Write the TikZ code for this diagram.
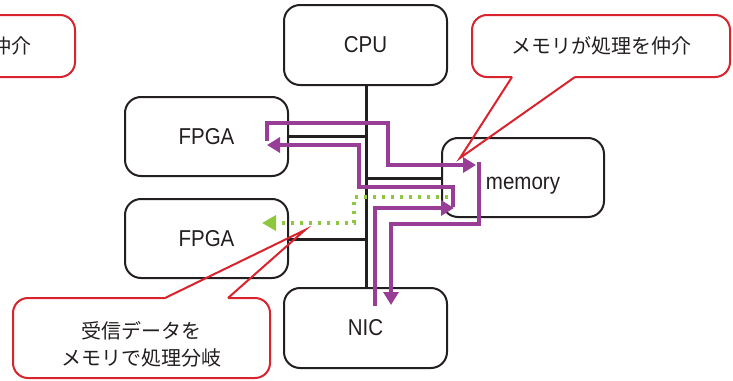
\documentclass[tikz,border=0pt]{standalone}
\usepackage{fontspec}
\setmainfont{Liberation Sans}
\newfontfamily\jpfont{Noto Sans CJK JP}
\usetikzlibrary{arrows.meta}
\definecolor{ink}{HTML}{231F20}
\definecolor{callred}{HTML}{D9232D}
\definecolor{flow}{HTML}{993E97}
\definecolor{dgreen}{HTML}{8DC63F}
\newcommand{\tallt}[1]{\scalebox{1}[1.12]{#1}}
\begin{document}
\begin{tikzpicture}[x=1pt,y=-1pt,
  unit/.style={draw=ink, line width=2pt, rounded corners=16pt, fill=white,
    minimum width=163pt, minimum height=80pt, inner sep=0pt,
    font=\fontsize{20.5}{24}\selectfont, text=ink},
  unitlabel/.style={font=\fontsize{20.5}{24}\selectfont, text=ink, inner sep=0pt},
  bus/.style={draw=ink, line width=3pt},
  flowtip/.style={draw=flow, line width=3.4pt, line join=miter,
    -{Triangle[length=13pt,width=15pt]}},
  dotline/.style={draw=dgreen, line width=3.4pt, dash pattern=on 3.4pt off 5.6pt,
    -{Triangle[length=14pt,width=15pt,fill=dgreen]}},
  callbox/.style={draw=callred, line width=2pt, rounded corners=15pt, fill=white},
  callptr/.style={draw=callred, line width=2pt, line join=miter},
  calltext/.style={font=\jpfont\fontsize{20}{27}\selectfont, text=ink, align=center, inner sep=0pt}
]
\useasboundingbox (0,0) rectangle (733,380);
\clip (0,0) rectangle (733,380);

% units
\node[unit] (cpu) at (365.5,45) {\tallt{CPU}};
\node[unit, minimum height=79pt] (fpga1) at (206.5,136.5) {\tallt{FPGA}};
\node[unit, minimum height=79pt] (fpga2) at (206.5,238.5) {\tallt{FPGA}};
\node[unit, minimum width=162pt, minimum height=79pt] (mem) at (523,177.5) {};
\node[unitlabel, anchor=base] (memlabel) at (523,189) {\tallt{memory}};
\node[unit] (nic) at (365.5,328) {\tallt{NIC}};

% bus
\coordinate (b1) at (366,136);
\coordinate (b2) at (366,178);
\coordinate (b3) at (366,239);
\draw[bus] (cpu.south -| b1) -- (nic.north -| b1);
\draw[bus] (fpga1.east |- b1) -- (b1);
\draw[bus] (b2) -- (mem.west |- b2);
\draw[bus] (fpga2.east |- b3) -- (b3);

% flows
\coordinate (a0) at (267,141);
\coordinate (a1) at (267,123);
\coordinate (a2) at (388,123);
\coordinate (a3) at (388,165);
\coordinate (a4) at (476,165);
\draw[flowtip] (a0) -- (a1) -- (a2) -- (a3) -- (a4);

\coordinate (d0) at (479,162);
\coordinate (d1) at (479,224);
\coordinate (d2) at (391,224);
\coordinate (d3) at (391,305);
\draw[flowtip] (d0) -- (d1) -- (d2) -- (d3);

\coordinate (n0) at (375,306);
\coordinate (n1) at (375,208);
\coordinate (n2) at (454,208);
\draw[flowtip] (n0) -- (n1) -- (n2);

\coordinate (c0) at (453,207);
\coordinate (c1) at (453,187);
\coordinate (c2) at (359,187);
\coordinate (c3) at (359,145);
\coordinate (c4) at (267,145);
\draw[flowtip] (c0) -- (c1) -- (c2) -- (c3) -- (c4);

\coordinate (g0) at (448,197);
\coordinate (g1) at (354,197);
\coordinate (g2) at (354,223);
\coordinate (g3) at (262,223);
\draw[dotline] (g0) -- (g1) -- (g2) -- (g3);

% callout top right
\coordinate (t1) at (512,77);
\coordinate (t2) at (575,77);
\coordinate (ttip) at (460,158);
\draw[callbox] (t2) -- (730,77) -- (730,15) -- (472,15) -- (472,77) -- (t1);
\draw[callptr] (t1) -- (ttip) -- (t2);
\node[calltext] (tx1) at (601,46) {メモリが処理を仲介};

% callout top left (cut by the border, as in the reference)
\draw[callbox] (-183,15) rectangle (75,77);
\node[calltext] (tx0) at (-58,46) {メモリが処理を仲介};

% callout bottom
\coordinate (u1) at (165,298);
\coordinate (u2) at (228,298);
\coordinate (utip) at (305,230);
\draw[callbox] (u1) -- (13,298) -- (13,378) -- (270,378) -- (270,298) -- (u2);
\draw[callptr] (u1) -- (utip) -- (u2);
\node[calltext] (tx2) at (141,344) {受信データを\\メモリで処理分岐};
\end{tikzpicture}
\end{document}
